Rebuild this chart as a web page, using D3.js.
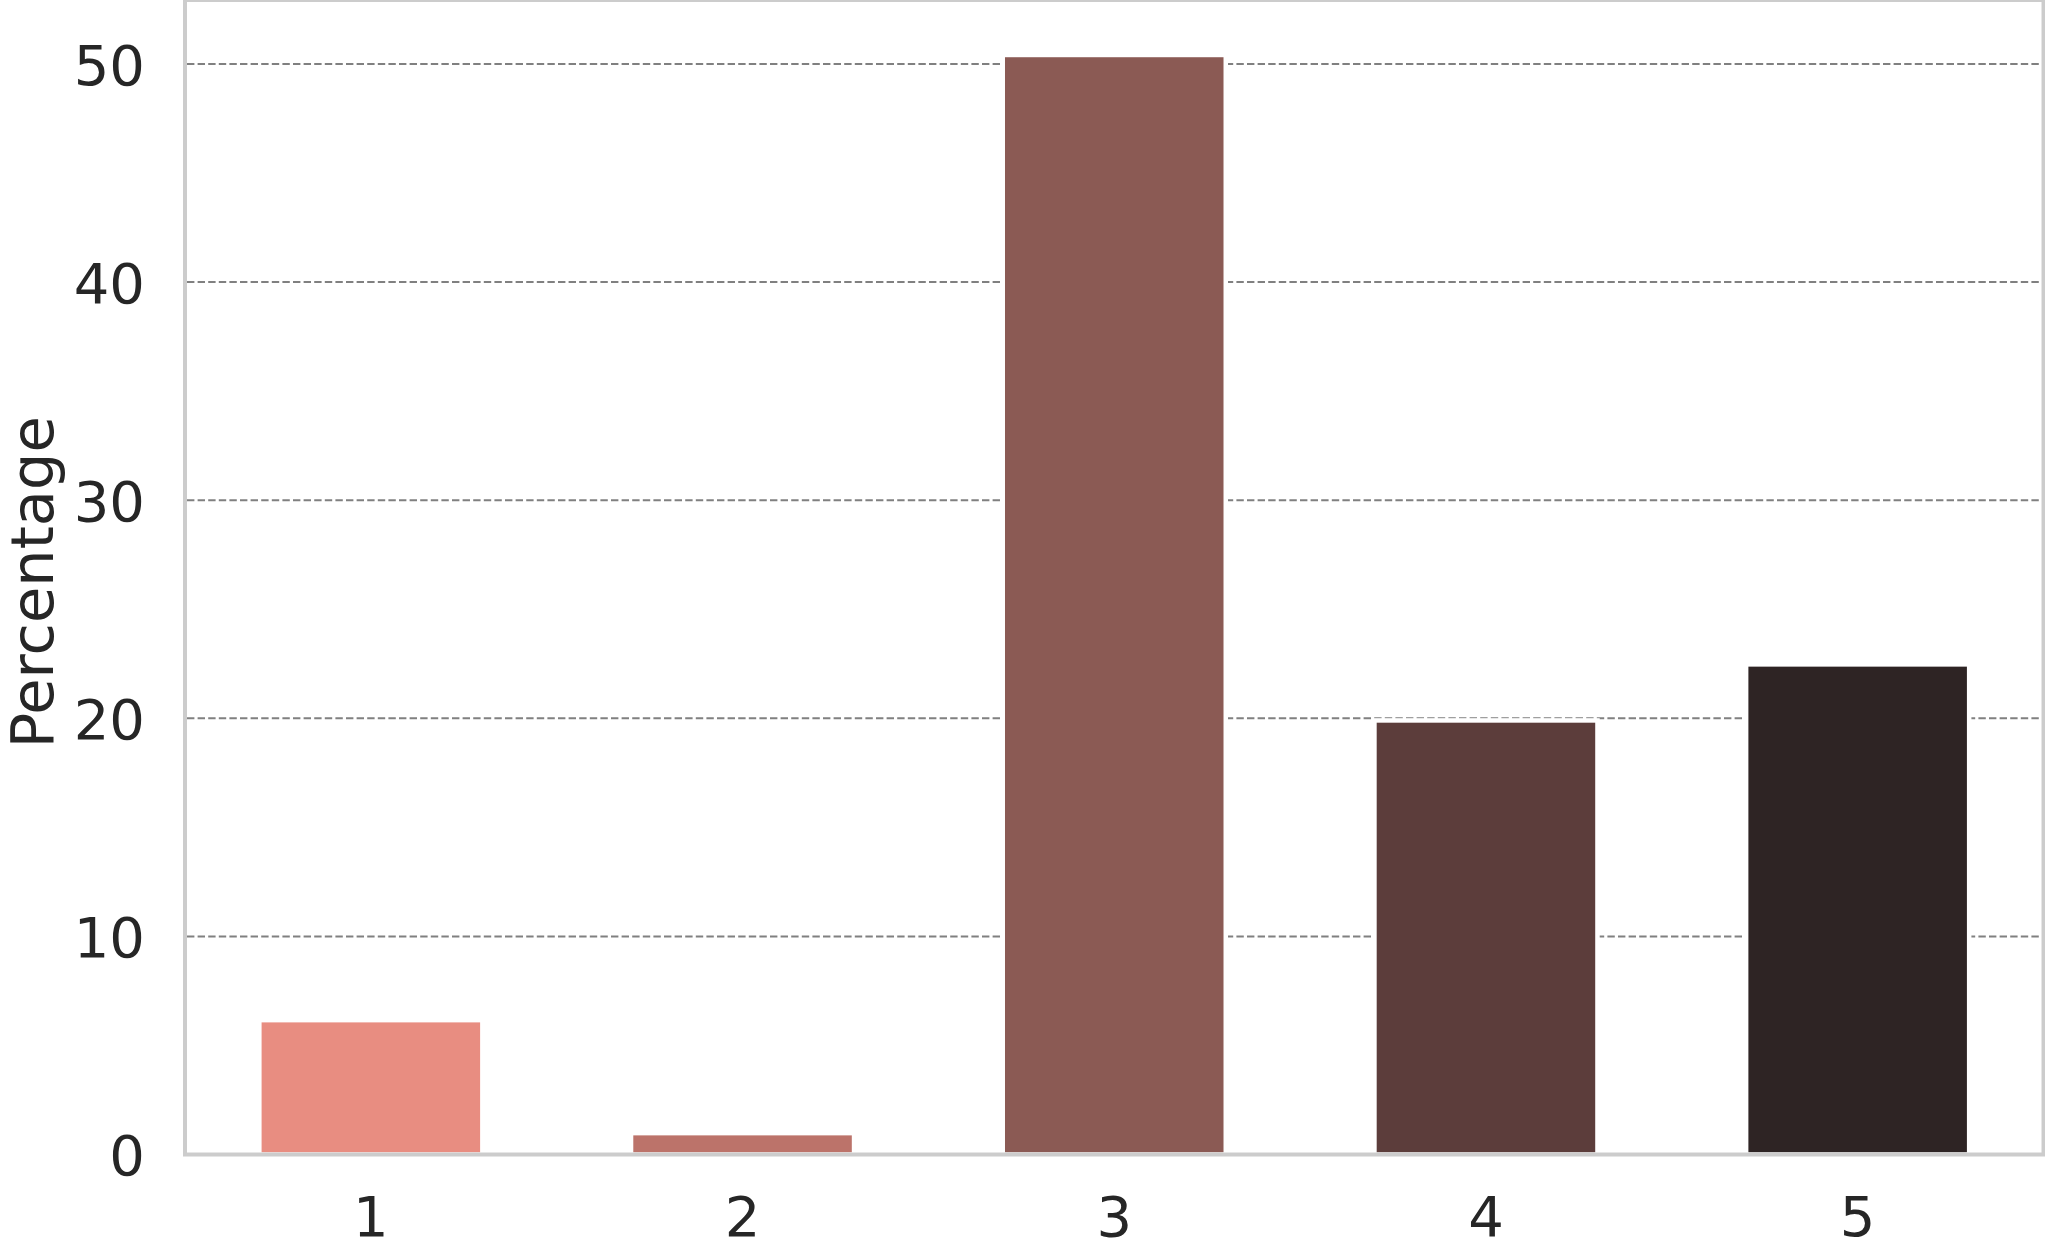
<!DOCTYPE html>
<html>
<head>
<meta charset="utf-8">
<script src="https://cdn.jsdelivr.net/npm/d3@7"></script>
<style>
  body { margin: 0; background: #fff; }
  text { font-family: "DejaVu Sans", sans-serif; fill: #262626; }
</style>
</head>
<body>
<svg id="chart" width="2045" height="1248"></svg>
<script>
// ratings and their share of answers (%)
var categories = ["1", "2", "3", "4", "5"];
var percentages = [6.16, 0.98, 50.41, 19.9, 22.47];
var colors = ["#e88d81", "#bc736a", "#8b5a54", "#5c3d3b", "#2e2424"];
var yTicks = [0, 10, 20, 30, 40, 50];

var plotLeft = 185, plotRight = 2043.5, plotTop = 0, plotBottom = 1154.5;

var svg = d3.select("#chart");

var x = d3.scaleBand()
    .domain(categories)
    .range([plotLeft, plotRight])
    .paddingInner(0.4)
    .paddingOuter(0.2);

var y = d3.scaleLinear()
    .domain([0, d3.max(percentages) * 1.05])
    .range([plotBottom, plotTop]);

// dashed grid, behind bars
svg.append("g")
  .selectAll("line")
  .data(yTicks.filter(function(d) { return d > 0; }))
  .join("line")
    .attr("x1", plotLeft + 2).attr("x2", plotRight - 2)
    .attr("y1", function(d) { return y(d); })
    .attr("y2", function(d) { return y(d); })
    .attr("stroke", "#808080")
    .attr("stroke-width", 2)
    .attr("stroke-dasharray", "7.4,3.2");

// bars with white edge
svg.append("g")
  .selectAll("rect")
  .data(percentages)
  .join("rect")
    .attr("x", function(d, i) { return x(categories[i]); })
    .attr("width", x.bandwidth())
    .attr("y", function(d) { return y(d); })
    .attr("height", function(d) { return y(0) - y(d); })
    .attr("fill", function(d, i) { return colors[i]; })
    .attr("stroke", "#fff")
    .attr("stroke-width", 4.5);

// y axis labels
var yAxis = d3.axisLeft(y).tickValues(yTicks).tickSize(0).tickPadding(40);
var gy = svg.append("g")
    .attr("transform", "translate(" + plotLeft + ",0)")
    .call(yAxis);
gy.select(".domain").remove();
gy.selectAll("text")
    .attr("font-size", 56)
    .attr("font-family", "DejaVu Sans")
    .attr("fill", "#262626")
    .attr("dy", "0.36em");

// x axis labels
var xAxis = d3.axisBottom(x).tickSize(0).tickPadding(42);
var gx = svg.append("g")
    .attr("transform", "translate(0," + plotBottom + ")")
    .call(xAxis);
gx.select(".domain").remove();
gx.selectAll("text")
    .attr("font-size", 56)
    .attr("font-family", "DejaVu Sans")
    .attr("fill", "#262626");

// spines
svg.append("rect")
    .attr("x", plotLeft).attr("y", plotTop)
    .attr("width", plotRight - plotLeft).attr("height", plotBottom - plotTop)
    .attr("fill", "none")
    .attr("stroke", "#cccccc")
    .attr("stroke-width", 4);

svg.append("text")
    .attr("transform", "translate(53," + ((plotTop + plotBottom) / 2 + 5) + ") rotate(-90)")
    .attr("text-anchor", "middle")
    .attr("font-size", 59)
    .text("Percentage");
</script>
</body>
</html>
